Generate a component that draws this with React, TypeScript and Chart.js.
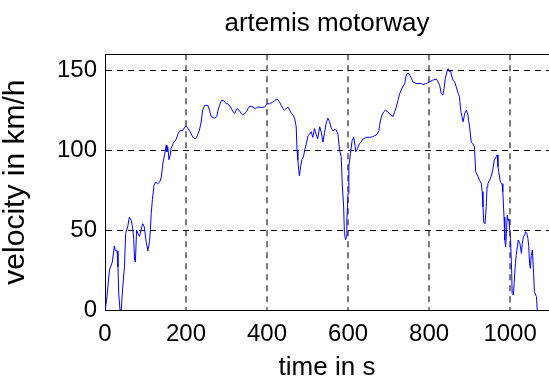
import React, { useEffect, useRef } from "react";
import { Chart, registerables } from "chart.js";

Chart.register(...registerables);

const chartTitle = "artemis motorway";
const xLabel = "time in s";
const yLabel = "velocity in km/h";

const timeS = [
  0, 4, 11, 18, 23, 26, 30, 32, 34, 37, 40, 44, 48, 51, 56, 60, 65, 69, 71, 73, 75, 78, 81, 85, 89, 93, 97, 102, 106, 110,
  112, 114, 117, 121, 125, 130, 135, 139, 143, 147, 151, 153, 155, 158, 161, 163, 168, 176, 180, 184, 192, 199, 204, 210,
  217, 223, 228, 233, 237, 241, 246, 254, 258, 262, 270, 276, 279, 283, 287, 293, 299, 303, 310, 316, 320, 326, 331, 336,
  340, 345, 349, 353, 357, 365, 371, 377, 386, 394, 401, 406, 414, 419, 425, 431, 435, 439, 443, 447, 451, 456, 460, 464,
  468, 472, 474, 476, 478, 480, 483, 486, 490, 493, 497, 501, 505, 509, 513, 517, 521, 525, 530, 534, 538, 542, 546, 550,
  554, 559, 563, 567, 571, 575, 579, 583, 586, 589, 591, 594, 596, 597, 600, 602, 606, 610, 614, 617, 619, 623, 628, 632,
  637, 645, 653, 661, 665, 670, 676, 678, 680, 684, 688, 692, 698, 705, 711, 715, 719, 723, 727, 731, 735, 740, 742, 744,
  748, 752, 756, 760, 768, 781, 785, 793, 801, 809, 818, 822, 826, 830, 834, 837, 840, 845, 847, 851, 853, 855, 859, 863,
  867, 872, 875, 878, 881, 884, 888, 892, 896, 898, 900, 904, 908, 912, 915, 919, 921, 925, 929, 931, 933, 935, 938, 941,
  943, 945, 949, 953, 957, 961, 966, 968, 970, 972, 976, 980, 982, 985, 987, 989, 991, 993, 995, 997, 999, 1001, 1004,
  1005, 1008, 1010, 1013, 1015, 1018, 1020, 1024, 1028, 1030, 1033, 1036, 1038, 1041, 1044, 1046, 1048, 1050, 1052, 1055,
  1058, 1060, 1065, 1067,
];

const velocityKmh = [
  0, 6, 25, 30, 40, 37, 37, 27, 10, 0, 0, 15, 27, 48, 52, 58, 56, 50, 44, 31, 30, 50, 48, 46, 50, 54, 52, 42, 37, 43,
  50, 60, 69, 78, 80, 79, 80, 83, 92, 97, 103, 99, 102, 94, 97, 101, 104, 107, 110, 112, 112.5, 115, 114, 111.5,
  108, 107, 109, 112.5, 117, 125, 128, 128, 125, 121, 120, 121, 125, 128, 131, 131, 129, 129, 127, 124, 123, 126, 125, 123,
  122, 123, 124, 126, 127.5, 127, 126, 127, 126.7, 127, 129, 129, 130, 131, 132, 130, 128, 126, 125, 126, 127, 125, 123, 122,
  120, 114.6, 100, 94, 88, 84, 90, 94, 96, 100, 104, 109, 110, 111.5, 108, 113.5, 110, 107, 114.6, 111, 105, 111, 117, 120,
  118, 113.5, 112, 113, 112.5, 110, 100, 96, 77, 65, 48, 44, 46, 56, 73, 90, 98, 106, 108, 103, 99, 101, 104, 105,
  107, 108, 108, 108.3, 109, 109.4, 112, 115.6, 118.75, 122, 124, 125, 124, 122, 121, 124, 127, 131, 135, 137.5, 139.6, 141.7, 145, 147,
  148.3, 147, 145, 142.7, 141.7, 141.7, 141, 141.7, 142.7, 143.75, 144.4, 142.7, 140.6, 135.4, 134.4, 138.5, 144.8, 150, 151, 149, 150, 147, 143.75, 142.7,
  139.6, 135.4, 133.3, 125, 121, 117.7, 123, 125, 122, 117.7, 114.6, 105, 104, 102, 86.5, 84.4, 83.3, 81, 79, 74, 64.6, 55, 54, 64.6,
  77, 79, 81, 83.3, 87.5, 93.75, 96, 97, 89.6, 86.5, 80, 79, 74, 58, 43.75, 39.6, 48, 59.4, 56, 57, 50, 44.8, 23,
  10.4, 9.4, 16.7, 29, 34, 39.6, 43.75, 41.7, 35.4, 41.7, 45.8, 47, 49, 48, 44.8, 39.6, 29, 26, 34, 37.5,
  23, 11.5, 8.3, 0,
];

const xMin = 0;
const xMax = 1096;
const xStep = 200;
const yMin = 0;
const yMax = 160;
const yStep = 50;

const FONT = "'Liberation Sans', Arial, Helvetica, sans-serif";

const topBorder = {
  id: "topBorder",
  afterDraw(chart: any) {
    const { ctx, chartArea } = chart;
    ctx.save();
    ctx.strokeStyle = "#000";
    ctx.lineWidth = 1;
    ctx.beginPath();
    ctx.moveTo(chartArea.left, Math.round(chartArea.top) + 0.5);
    ctx.lineTo(chartArea.right, Math.round(chartArea.top) + 0.5);
    ctx.stroke();
    ctx.restore();
  },
};

export default function App() {
  const ref = useRef<HTMLCanvasElement | null>(null);

  useEffect(() => {
    if (!ref.current) return;
    const chart = new Chart(ref.current, {
      type: "line",
      data: {
        datasets: [
          {
            data: timeS.map((t, i) => ({ x: t, y: velocityKmh[i] })),
            borderColor: "rgb(0,0,255)",
            borderWidth: 1,
            pointRadius: 0,
            tension: 0,
            fill: false,
          },
        ],
      },
      options: {
        animation: false,
        responsive: false,
        layout: { padding: 0 },
        plugins: {
          legend: { display: false },
          tooltip: { enabled: false },
          title: {
            display: true,
            text: chartTitle,
            fullSize: false,
            color: "#000",
            font: { family: FONT, size: 26, weight: "normal" },
            padding: { top: 8, bottom: 15 },
          },
        },
        scales: {
          x: {
            type: "linear",
            min: xMin,
            max: xMax,
            afterFit: (s: any) => {
              s.height = 67;
            },
            ticks: {
              stepSize: xStep,
              includeBounds: false,
              color: "#000",
              padding: 10,
              maxRotation: 0,
              font: { family: FONT, size: 24 },
              callback: (v: any) => String(v),
            },
            grid: {
              color: (c: any) => (c.tick && c.tick.value === 0 ? "rgba(0,0,0,0)" : "#7a7a7a"),
              lineWidth: 2,
              drawTicks: false,
              borderDash: [6, 5],
            },
            border: { display: true, color: "#000", width: 1, dash: [6, 5] },
            title: {
              display: true,
              text: xLabel,
              color: "#000",
              font: { family: FONT, size: 26, lineHeight: 1 },
              padding: { top: 0, bottom: -4 },
            },
          },
          y: {
            type: "linear",
            min: yMin,
            max: yMax,
            afterFit: (s: any) => {
              s.width = 105;
            },
            ticks: {
              stepSize: yStep,
              includeBounds: false,
              color: "#000",
              padding: 8,
              font: { family: FONT, size: 24 },
              callback: (v: any) => String(v),
            },
            grid: {
              color: (c: any) => (c.tick && c.tick.value === 0 ? "rgba(0,0,0,0)" : "#000"),
              lineWidth: 1,
              drawTicks: false,
              borderDash: [6, 5],
            },
            border: { display: true, color: "#000", width: 1, dash: [6, 5] },
            title: {
              display: true,
              text: yLabel,
              color: "#000",
              font: { family: FONT, size: 30, lineHeight: 1 },
              padding: { top: 1, bottom: 0 },
            },
          },
        },
      },
      plugins: [topBorder],
    } as any);
    return () => chart.destroy();
  }, []);

  return (
    <div style={{ position: "fixed", left: 0, top: 0, width: 549, height: 377, background: "#fff" }}>
      <canvas ref={ref} width={549} height={377} style={{ display: "block" }} />
    </div>
  );
}
